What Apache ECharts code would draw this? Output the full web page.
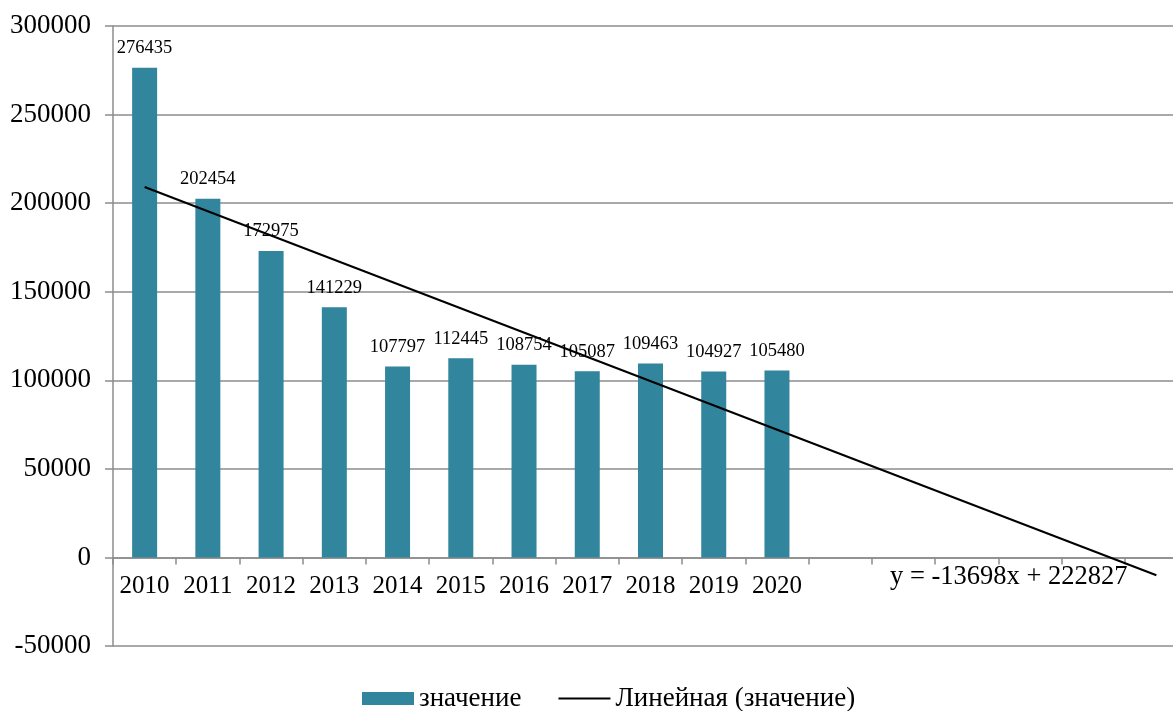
<!DOCTYPE html>
<html>
<head>
<meta charset="utf-8">
<script src="https://cdn.jsdelivr.net/npm/echarts@6/dist/echarts.min.js"></script>
<style>html,body{margin:0;padding:0;background:#fff;overflow:hidden;}#c{width:1188px;height:711px;}</style>
</head>
<body>
<div id="c"></div>
<script>
var categories = ['2010','2011','2012','2013','2014','2015','2016','2017','2018','2019','2020','','','','','',''];
var values = [276435, 202454, 172975, 141229, 107797, 112445, 108754, 105087, 109463, 104927, 105480];
var trendValues = [209129, null, null, null, null, null, null, null, null, null, null, null, null, null, null, null, -10039];
var yTicks = {min: -50000, max: 300000, interval: 50000};
var equationText = 'y = -13698x + 222827';
var seriesNames = ['значение', 'Линейная (значение)'];

var font = 'Liberation Serif';
var chart = echarts.init(document.getElementById('c'));
chart.setOption({
  backgroundColor: '#fff',
  animation: false,
  grid: {left: 113, right: 0, top: 26, bottom: 65, containLabel: false},
  legend: {
    top: 680, left: 357,
    itemWidth: 52, itemHeight: 13, itemGap: 37,
    textStyle: {fontFamily: font, fontSize: 27, color: '#000'},
    data: [
      {name: seriesNames[0], icon: 'rect'},
      {name: seriesNames[1], icon: 'path://M0,0L52,0L52,2L0,2Z', itemStyle: {color: '#000'}}
    ]
  },
  xAxis: {
    type: 'category', data: categories, offset: -88.6,
    axisLine: {onZero: false, lineStyle: {color: '#8c8c8c', width: 1.5}},
    axisTick: {show: true, length: 7, lineStyle: {color: '#8c8c8c', width: 1.5}},
    axisLabel: {fontFamily: font, fontSize: 25, color: '#000', margin: 17, interval: 0},
    splitLine: {show: false}
  },
  yAxis: {
    type: 'value', min: yTicks.min, max: yTicks.max, interval: yTicks.interval,
    axisLine: {show: true, lineStyle: {color: '#8c8c8c', width: 1.5}},
    axisTick: {show: true, length: 8, lineStyle: {color: '#8c8c8c', width: 1.5}},
    axisLabel: {fontFamily: font, fontSize: 27, color: '#000', margin: 22, formatter: function (v) { return String(v); }},
    splitLine: {show: true, lineStyle: {color: '#8c8c8c', width: 1.5}}
  },
  graphic: [{
    type: 'text', left: 890, top: 564,
    style: {text: equationText, font: '26.5px "Liberation Serif"', fill: '#000'}
  }],
  series: [{
    name: seriesNames[0], type: 'bar', data: values, barWidth: 25,
    itemStyle: {color: '#31859c'},
    label: {show: true, position: 'top', distance: 10, fontFamily: font, fontSize: 18.5, color: '#000'}
  }, {
    name: seriesNames[1], type: 'line', data: trendValues, connectNulls: true,
    symbol: 'none', lineStyle: {color: '#000', width: 2}, itemStyle: {color: '#000'},
    z: 5
  }]
});
</script>
</body>
</html>
